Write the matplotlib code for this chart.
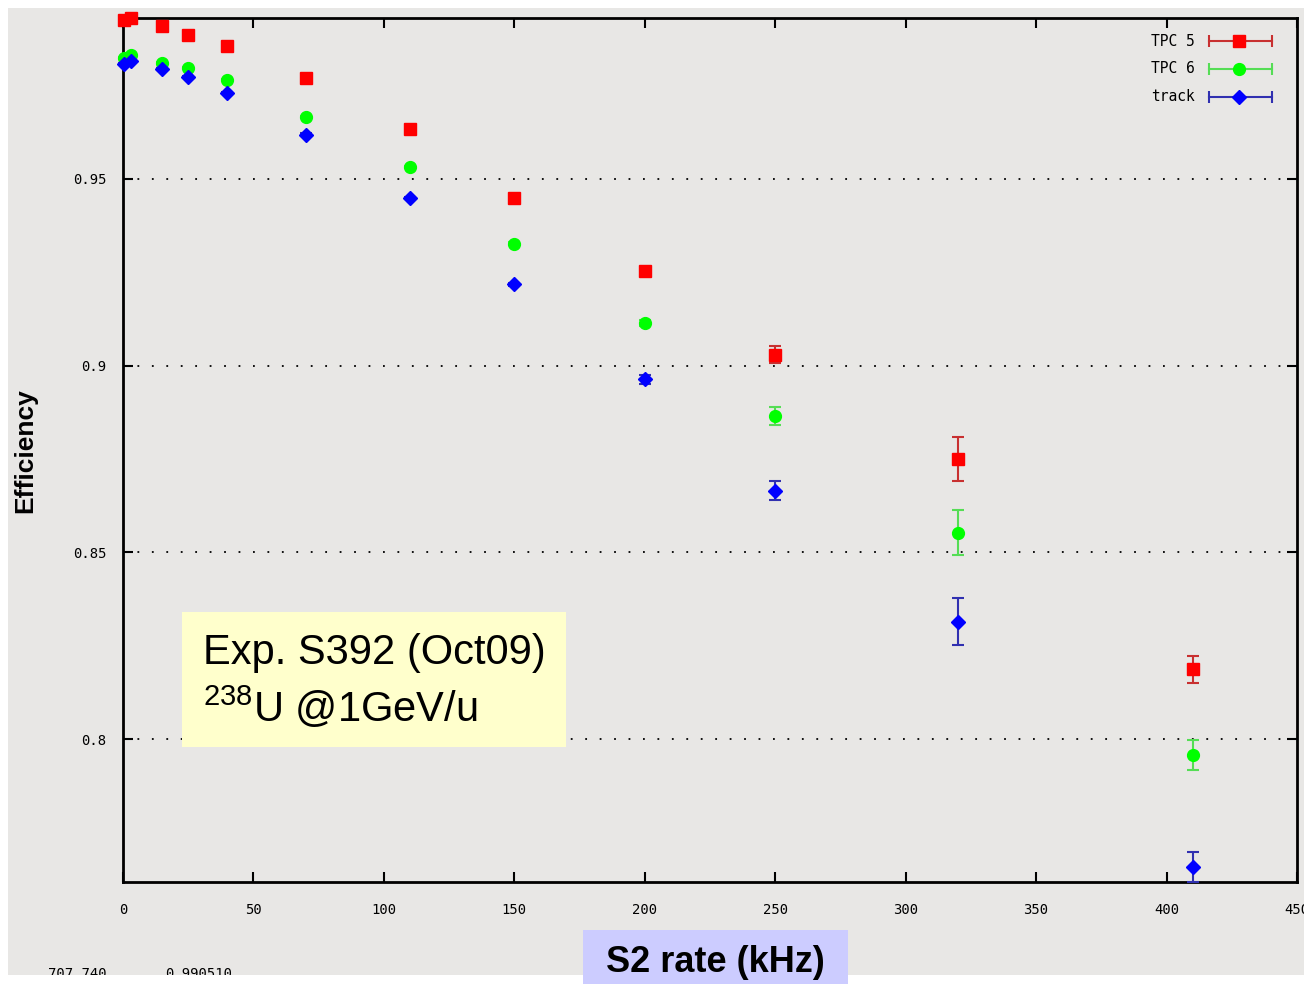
import matplotlib
matplotlib.use("Agg")
import matplotlib.pyplot as plt
from matplotlib.patches import Rectangle

# S2 rate (kHz)
rate = [0.5, 3, 15, 25, 40, 70, 110, 150, 200, 250, 320, 410]

tpc5 = [0.9925, 0.9930, 0.9909, 0.9885, 0.9856, 0.9770, 0.9634, 0.9449, 0.9254, 0.9029, 0.8749, 0.8187]
tpc5_err = [0.0002, 0.0002, 0.0002, 0.0002, 0.0002, 0.0003, 0.0003, 0.0004, 0.0005, 0.0022, 0.0059, 0.0036]

tpc6 = [0.9824, 0.9832, 0.9810, 0.9797, 0.9765, 0.9666, 0.9532, 0.9326, 0.9115, 0.8864, 0.8553, 0.7957]
tpc6_err = [0.0002, 0.0002, 0.0002, 0.0002, 0.0002, 0.0003, 0.0003, 0.0004, 0.0008, 0.0024, 0.0060, 0.0040]

track = [0.9807, 0.9816, 0.9794, 0.9773, 0.9730, 0.9618, 0.9449, 0.9217, 0.8963, 0.8665, 0.8315, 0.7658]
track_err = [0.0002, 0.0002, 0.0002, 0.0002, 0.0002, 0.0003, 0.0003, 0.0005, 0.0012, 0.0025, 0.0064, 0.0040]

xticks = [0, 50, 100, 150, 200, 250, 300, 350, 400, 450]
yticks = [0.8, 0.85, 0.9, 0.95]

series = [
    ("TPC 5", tpc5, tpc5_err, "s", "#ff0000", "#c83030", 9),
    ("TPC 6", tpc6, tpc6_err, "o", "#00ff00", "#55dd55", 8.5),
    ("track", track, track_err, "D", "#0000ff", "#3030b0", 7),
]

W, H = 1304, 984
fig = plt.figure(figsize=(W / 100, H / 100), dpi=100, facecolor="white")
bg = "#e8e7e5"

# grey screenshot area
fig.patches.append(Rectangle((8 / W, 1 - 975 / H), 1, (975 - 8) / H,
                             transform=fig.transFigure, facecolor=bg,
                             edgecolor="none", zorder=-5))

ax = fig.add_axes([123 / W, 1 - 882 / H, (1297 - 123) / W, (882 - 18) / H])
ax.set_facecolor(bg)

for name, ys, es, mk, col, ecol, ms in series:
    ax.errorbar(rate, ys, yerr=es, fmt=mk, color=col, ecolor=ecol,
                markersize=ms, elinewidth=1.5, capsize=4.5, capthick=1.5,
                clip_on=False, zorder=3)

ax.set_xlim(0, 450)
ax.set_ylim(0.7618, 0.993)
ax.set_xticks(xticks)
ax.set_yticks(yticks)
ax.set_xticklabels([str(v) for v in xticks])
ax.set_yticklabels(["0.8", "0.85", "0.9", "0.95"])
ax.tick_params(direction="in", top=True, right=True, length=7, width=1.5,
               labelsize=10, pad=12, colors="black")
ax.tick_params(axis="x", pad=15)
for lab in ax.get_xticklabels() + ax.get_yticklabels():
    lab.set_family("DejaVu Sans Mono")
ax.grid(axis="y", color="black", linestyle=(0, (1, 7)), linewidth=1.3)
ax.grid(axis="x", visible=False)
for sp in ax.spines.values():
    sp.set_linewidth(2)

# gnuplot style key
ky = [0.973, 0.941, 0.909]
for (name, ys, es, mk, col, ecol, ms), yy in zip(series, ky):
    ax.text(0.913, yy, name, transform=ax.transAxes, ha="right", va="center",
            family="DejaVu Sans Mono", fontsize=10.5)
    ax.plot([0.925, 0.979], [yy, yy], color=ecol, lw=1.5, transform=ax.transAxes,
            clip_on=False)
    ax.plot([0.925, 0.979], [yy, yy], ls="none", marker="|", ms=8, mew=1.5,
            color=ecol, transform=ax.transAxes, clip_on=False)
    ax.plot([0.951], [yy], ls="none", marker=mk, ms=ms, color=col,
            transform=ax.transAxes, clip_on=False)

fig.text(25 / W, 1 - 451 / H, "Efficiency", rotation=90, ha="center", va="center",
         family="Liberation Sans", fontweight="bold", fontsize=19)

# mouse readout, cut off by the slide edge
fig.text(48 / W, 1 - 967 / H, "707.740", family="DejaVu Sans Mono", fontsize=10,
         va="top")
fig.text(165 / W, 1 - 967 / H, "0.990510", family="DejaVu Sans Mono", fontsize=10,
         va="top")
fig.patches.append(Rectangle((0, 0), 1, 9 / H, transform=fig.transFigure,
                             facecolor="white", edgecolor="none", zorder=10))

# annotation box
fig.patches.append(Rectangle((182 / W, 1 - 747 / H), (566 - 182) / W, (747 - 612) / H,
                             transform=fig.transFigure, facecolor="#ffffcc",
                             edgecolor="none", zorder=5))
fig.text(203 / W, 1 - 653 / H, "Exp. S392 (Oct09)", family="Liberation Sans",
         fontsize=30, va="center", zorder=6)
fig.text(203 / W, 1 - 708 / H, r"$\mathregular{^{238}}$U @1GeV/u",
         family="Liberation Sans", fontsize=30, va="center", zorder=6)

# x label box
fig.patches.append(Rectangle((583 / W, 0), (848 - 583) / W, (984 - 930) / H,
                             transform=fig.transFigure, facecolor="#ccccff",
                             edgecolor="none", zorder=11))
fig.text(715 / W, 1 - 962 / H, "S2 rate (kHz)", family="Liberation Sans",
         fontweight="bold", fontsize=26, ha="center", va="center", zorder=12)

fig.savefig("out.png", dpi=100, facecolor="white")
